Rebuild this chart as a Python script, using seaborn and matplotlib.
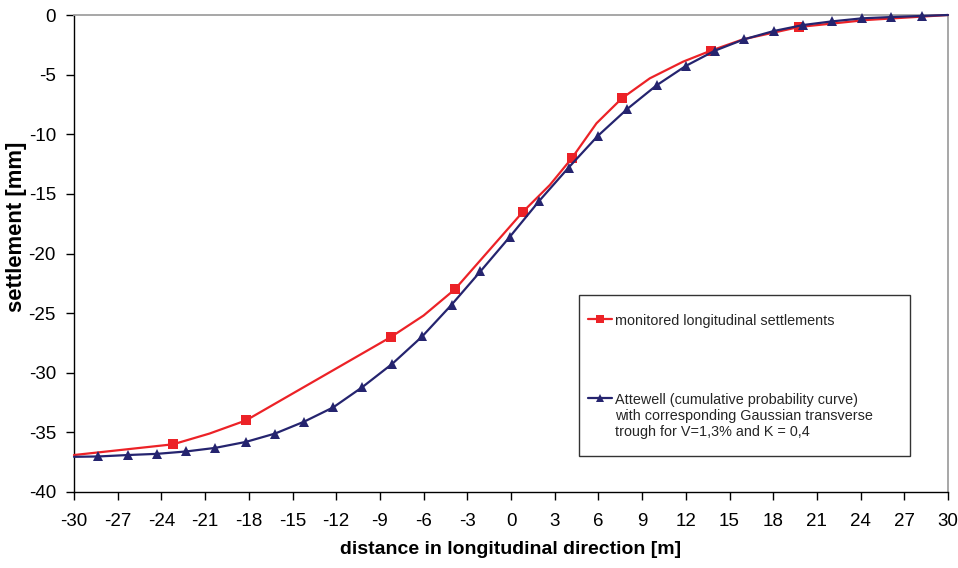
import matplotlib
matplotlib.use("Agg")
import matplotlib.pyplot as plt
from matplotlib.lines import Line2D
from matplotlib.patches import Rectangle
import seaborn as sns
import pandas as pd

# ---- data ----
red_x = [-30, -23.2, -20.7, -18.2, -8.24, -6.0, -3.85, 0.82, 2.67, 4.18, 5.87, 7.6,
         9.53, 11.82, 13.7, 15.93, 19.8, 24.4, 30]
red_y = [-36.9, -36.0, -35.1, -34.0, -27.0, -25.2, -23.0, -16.5, -14.25, -12.0, -9.08, -7.0,
         -5.31, -3.91, -3.0, -2.04, -1.0, -0.42, 0.0]
red_marked = [False, True, False, True, True, False, True, True, False, True, False, True,
              False, False, True, False, True, False, False]

blue_x = [-30, -28.33, -26.3, -24.3, -22.3, -20.3, -18.2, -16.2, -14.2, -12.2, -10.2,
          -8.15, -6.1, -4.08, -2.1, -0.08, 1.93, 3.95, 5.96, 7.98, 9.99, 12.0, 14.0,
          16.0, 18.05, 20.06, 22.07, 24.1, 26.1, 28.2, 30]
blue_y = [-37.05, -37.02, -36.9, -36.8, -36.6, -36.3, -35.8, -35.1, -34.1, -32.9, -31.2,
          -29.25, -26.96, -24.3, -21.5, -18.6, -15.6, -12.8, -10.14, -7.88, -5.9, -4.27,
          -2.99, -2.04, -1.34, -0.84, -0.53, -0.28, -0.17, -0.08, 0.0]
blue_marked = [False] + [True] * 29 + [False]

x_ticks = list(range(-30, 31, 3))
y_ticks = list(range(-40, 1, 5))

red_label = "monitored longitudinal settlements"
blue_label = ("Attewell (cumulative probability curve)\n"
              "with corresponding Gaussian transverse\n"
              "trough for V=1,3% and K = 0,4")
x_label = "distance in longitudinal direction [m]"
y_label = "settlement [mm]"

RED = "#EC2227"
BLUE = "#25246F"

sns.set_theme(style="white")
plt.rcParams["font.family"] = ["Liberation Sans", "DejaVu Sans"]
plt.rcParams["axes.unicode_minus"] = False

fig = plt.figure(figsize=(9.58, 5.68), dpi=100)
ax = fig.add_axes([74 / 958, 1 - 492 / 568, (948 - 74) / 958, 477 / 568])

df_red = pd.DataFrame({"x": red_x, "y": red_y})
df_blue = pd.DataFrame({"x": blue_x, "y": blue_y})

sns.lineplot(data=df_red, x="x", y="y", ax=ax, color=RED, linewidth=1.6,
             marker="s", markersize=7, markeredgewidth=0, markevery=red_marked,
             legend=False, clip_on=False, zorder=3, sort=False)
sns.lineplot(data=df_blue, x="x", y="y", ax=ax, color=BLUE, linewidth=1.6,
             marker="^", markersize=6.5, markeredgewidth=0, markevery=blue_marked,
             legend=False, clip_on=False, zorder=4, sort=False)

ax.set_xlim(-30, 30)
ax.set_ylim(-40, 0)
ax.set_xticks(x_ticks)
ax.set_yticks(y_ticks)
ax.tick_params(axis="both", direction="out", length=6, width=1, color="black",
               labelsize=13.5, labelcolor="black")
ax.tick_params(axis="x", pad=9)
ax.tick_params(axis="y", pad=7)
ax.tick_params(bottom=True, left=True)

for side in ["left", "bottom"]:
    ax.spines[side].set_color("black")
    ax.spines[side].set_linewidth(1.0)
for side in ["top", "right"]:
    ax.spines[side].set_color("#a0a0a0")
    ax.spines[side].set_linewidth(1.3)

ax.set_xlabel(x_label, fontsize=14, fontweight="bold", color="black")
ax.set_ylabel(y_label, fontsize=15.8, fontweight="bold", color="black")
ax.xaxis.set_label_coords(0.5, (492 - 541) / 477)
ax.yaxis.set_label_coords((27 - 74) / 874, 0.556)

# legend frame
ax.add_patch(Rectangle((0.578, 0.0755), 0.378, 0.3375, transform=ax.transAxes,
                       facecolor="white", edgecolor="#333333", linewidth=1.0,
                       zorder=5, clip_on=False))

handles = [
    Line2D([], [], color=RED, linewidth=1.6, marker="s", markersize=6,
           markeredgewidth=0),
    Line2D([], [], color=BLUE, linewidth=1.6, marker="^", markersize=5.5,
           markeredgewidth=0),
]
leg = ax.legend(handles, [red_label, blue_label], loc="upper left",
                bbox_to_anchor=(0.588, 0.374), frameon=False, fontsize=10.4,
                handlelength=1.7, handletextpad=0.15, labelspacing=4.5,
                borderpad=0, borderaxespad=0)
leg.set_zorder(6)
for col in leg._legend_handle_box.get_children():
    for hp in col.get_children():
        hp.align = "top"

fig.savefig("out.png", dpi=100)
